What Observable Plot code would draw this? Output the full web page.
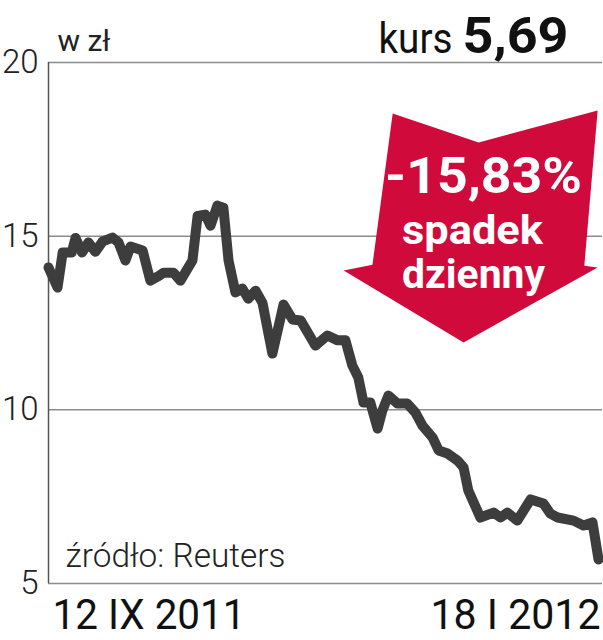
<!DOCTYPE html>
<html><head><meta charset="utf-8">
<script src="https://cdn.jsdelivr.net/npm/d3@7"></script>
<script src="https://cdn.jsdelivr.net/npm/@observablehq/plot@0.6"></script>
<style>
body{margin:0;background:#fff;}
#chart svg{display:block;}
</style></head><body><div id="chart"></div>
<script>
// days since 12 IX 2011
const days = [0,2.1,3.3,5.4,6.3,7.8,9.3,10.9,12.6,14.9,16.3,17.9,19.1,21.9,23.7,25.6,26.8,29.1,30.7,33.5,34.7,36.5,37.7,39.3,40.7,41.9,43.5,45.1,46.5,48.2,49.8,52.1,54.7,56.8,58.7,62.1,64.9,67.3,69.1,70.7,72.1,73.3,74.9,76.6,77.7,79.1,81.2,83.5,85.4,87.0,89.4,90.8,92.9,95.2,96.6,97.7,100.5,103.6,105.2,106.8,109.1,112.2,115.2,116.8,118.5,122.2,124.5,126.6,128];
const prices = [14.10,13.52,14.53,14.53,14.95,14.53,14.82,14.55,14.85,14.96,14.82,14.30,14.70,14.59,13.72,13.85,13.95,13.95,13.72,14.30,15.58,15.62,15.30,15.88,15.82,14.30,13.38,13.49,13.20,13.43,13.08,11.62,13.03,12.60,12.57,11.85,12.14,12.00,12.00,11.28,10.93,10.21,10.21,9.46,9.98,10.41,10.18,10.18,9.92,9.55,9.20,8.83,8.74,8.54,8.34,7.68,6.90,7.04,6.90,7.04,6.81,7.42,7.30,7.01,6.90,6.81,6.67,6.76,5.69];
const yTicks = [20, 15, 10, 5];
const startLabel = "12 IX 2011";
const endLabel = "18 I 2012";
const unitLabel = "w zł";
const rateLabel = "kurs";
const rateValue = "5,69";
const changeLabel = "-15,83%";
const changeWords = ["spadek", "dzienny"];
const sourceLabel = "źródło: Reuters";
// annotation arrow outline (days, zł)
const arrowDays = [80.1, 100.1, 127.8, 124.7, 127.8, 96.6, 68.7, 75.4, 80.1];
const arrowValues = [18.53, 17.70, 18.62, 14.15, 14.10, 11.94, 14.01, 14.18, 18.53];

const data = days.map((d, i) => ({day: d, price: prices[i]}));
const arrow = arrowDays.map((d, i) => ({day: d, v: arrowValues[i]}));

const font = "Roboto, 'Liberation Sans', sans-serif";
const plot = Plot.plot({
  width: 603,
  height: 640,
  marginTop: 62,
  marginBottom: 57,
  marginLeft: 48,
  marginRight: 1,
  style: {fontFamily: font, background: "#fff", overflow: "visible"},
  x: {domain: [0, 128.93], axis: null},
  y: {domain: [5, 20], axis: null},
  marks: [
    Plot.ruleY(yTicks, {stroke: "#8c8c8c", strokeWidth: 1.5}),
    Plot.ruleX([0], {stroke: "#555", strokeWidth: 1.5}),
    Plot.axisY(yTicks, {tickSize: 0, tickPadding: 10, fontSize: 33, fontWeight: 300, fill: "#222", textAnchor: "end"}),
    Plot.line(arrow, {x: "day", y: "v", fill: "#d10a3c", stroke: "none", curve: "linear"}),
    Plot.line(data, {x: "day", y: "price", stroke: "#3d3d3d", strokeWidth: 10, strokeLinejoin: "round", strokeLinecap: "round"}),
    Plot.text([changeLabel], {frameAnchor: "top-left", dx: 435, dy: 130, lineAnchor: "bottom", textAnchor: "middle", text: d => d, fill: "#fff", fontSize: 50, fontWeight: 700}),
    Plot.text([changeWords[0]], {frameAnchor: "top-left", dx: 424, dy: 181, lineAnchor: "bottom", textAnchor: "middle", text: d => d, fill: "#fff", fontSize: 41, fontWeight: 700}),
    Plot.text([changeWords[1]], {frameAnchor: "top-left", dx: 425, dy: 225, lineAnchor: "bottom", textAnchor: "middle", text: d => d, fill: "#fff", fontSize: 41, fontWeight: 700}),
    Plot.text([unitLabel], {frameAnchor: "top-left", dx: 9, dy: -12, lineAnchor: "bottom", textAnchor: "start", text: d => d, fill: "#222", fontSize: 30, fontWeight: 400}),
    Plot.text([rateLabel], {frameAnchor: "top-right", dx: -150, dy: -10, lineAnchor: "bottom", textAnchor: "end", text: d => d, fill: "#111", fontSize: 42, fontWeight: 400}),
    Plot.text([rateValue], {frameAnchor: "top-right", dx: -34, dy: -10, lineAnchor: "bottom", textAnchor: "end", text: d => d, fill: "#111", fontSize: 50, fontWeight: 700}),
    Plot.text([sourceLabel], {frameAnchor: "bottom-left", dx: 17, dy: -17, lineAnchor: "bottom", textAnchor: "start", text: d => d, fill: "#222", fontSize: 33, fontWeight: 300}),
    Plot.text([startLabel], {frameAnchor: "bottom-left", dx: 4, dy: 45, lineAnchor: "bottom", textAnchor: "start", text: d => d, fill: "#111", fontSize: 43, fontWeight: 400}),
    Plot.text([endLabel], {frameAnchor: "bottom-right", dx: -2, dy: 45, lineAnchor: "bottom", textAnchor: "end", text: d => d, fill: "#111", fontSize: 43, fontWeight: 400})
  ]
});
// condensed lettering: fit each label to the width it has in the reference
const fitWidths = new Map([
  [rateLabel, 74], [rateValue, 106], [sourceLabel, 220],
  [startLabel, 193], [endLabel, 170], [changeLabel, 197],
  [changeWords[0], 141], [changeWords[1], 143]
]);
d3.select(plot).selectAll("text").each(function () {
  const t = this.textContent;
  if (fitWidths.has(t)) {
    this.setAttribute("textLength", fitWidths.get(t));
    this.setAttribute("lengthAdjust", "spacingAndGlyphs");
  }
});
document.getElementById("chart").appendChild(plot);
</script></body></html>
